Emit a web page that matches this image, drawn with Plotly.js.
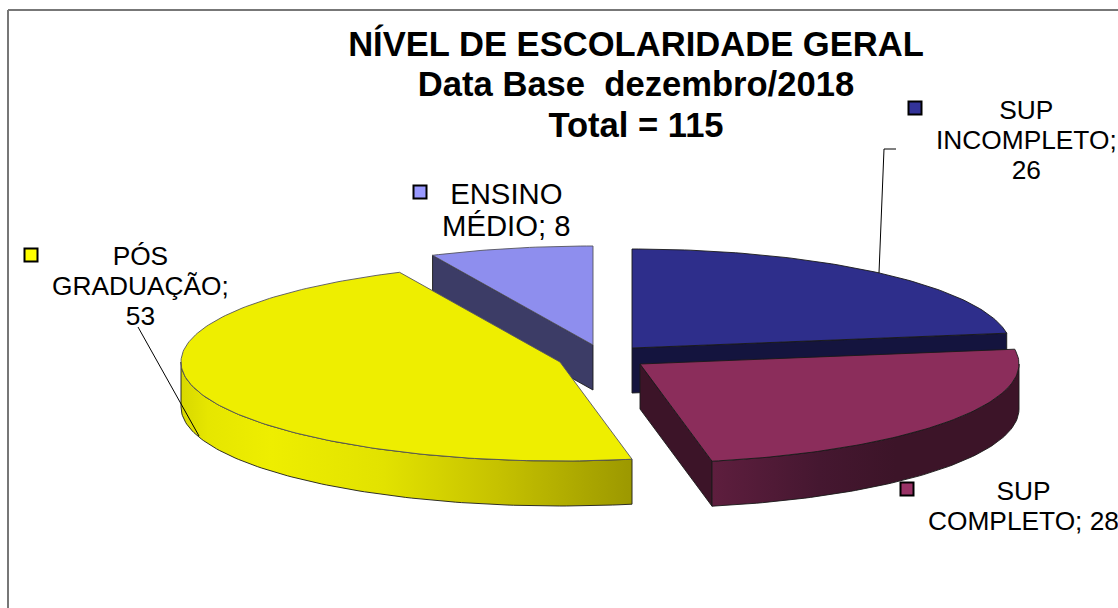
<!DOCTYPE html>
<html>
<head>
<meta charset="utf-8">
<script src="https://cdn.plot.ly/plotly-3.0.1.min.js"></script>
<style>html,body{margin:0;padding:0;background:#fff;overflow:hidden}#chart{width:1118px;height:608px}</style>
</head>
<body>
<div id="chart"></div>
<script>
// ---- data ----
const categories = ['SUP INCOMPLETO', 'SUP COMPLETO', 'PÓS GRADUAÇÃO', 'ENSINO MÉDIO'];
const values = [26, 28, 53, 8];
const titleLines = ['NÍVEL DE ESCOLARIDADE GERAL', 'Data Base  dezembro/2018', 'Total = 115'];
const labelBreaks = [['SUP', 'INCOMPLETO;', '26'], ['SUP', 'COMPLETO; 28'], ['PÓS', 'GRADUAÇÃO;', '53'], ['ENSINO', 'MÉDIO; 8']];
const labelSizes = [26.3, 26.3, 26.3, 29.3];
const labelLineBase = [23, 23, 23, 24.5];

// ---- styling ----
const topColors = ['#2e2e8b', '#8b2d5b', '#eeee00', '#8e8eee'];
const cutColors = ['#14143e', '#3c1428', '#a09a00', '#3c3c66'];
const keyColors = ['#333399', '#993366', '#ffff00', '#9999ff'];
const rimScales = [
  null,
  [[0, '#5e1e3e'], [0.35, '#451730'], [0.6, '#3c1428'], [1, '#3c1428']],
  [[0, '#d8d800'], [0.06, '#e6e600'], [0.2, '#eeee00'], [0.45, '#e2e200'], [0.7, '#c6c200'], [1, '#9c9800']],
  null
];

// ---- pie geometry: axes are set to run in pixels of the page ----
const RX = 379, RY = 99, DEPTH = 45;
const centres = [[632, 348], [640, 364], [560, 362], [593, 345]];
const labelAnchors = [[1026, 140], [1023, 506], [140.5, 285.5], [506, 209.5]];
const keyAnchors = [[915, 108], [907, 489], [31, 255], [420, 192]];
const leaderA = [[896, 149], [884, 149], [879, 273]];
const leaderC = [[138, 327], [199, 436]];
const frameX = [8, 8], frameY = [608, 10], frameTopX = [8, 1118], frameTopY = [10, 10];

const total = values.reduce((a, b) => a + b, 0);
const rad = d => d * Math.PI / 180;
function arcPts(c, a0, a1, dy) {
  const n = Math.max(2, Math.ceil(Math.abs(a1 - a0)));
  const xs = [], ys = [];
  for (let i = 0; i <= n; i++) {
    const a = rad(a0 + (a1 - a0) * i / n);
    xs.push(c[0] + RX * Math.sin(a));
    ys.push(c[1] - RY * Math.cos(a) + dy);
  }
  return [xs, ys];
}
function poly(xs, ys, fill, grad, lineColor, lineWidth) {
  const t = {
    type: 'scatter', mode: 'lines', x: xs.concat(xs[0]), y: ys.concat(ys[0]),
    fill: 'toself', line: {color: lineColor || '#1a1a1a', width: lineWidth || 0.9},
    hoverinfo: 'skip', showlegend: false
  };
  if (grad) { t.fillgradient = {type: 'horizontal', colorscale: grad}; t.fillcolor = grad[0][1]; }
  else t.fillcolor = fill;
  return t;
}
const spans = [];
let acc = 0;
values.forEach(v => { spans.push([acc / total * 360, (acc + v) / total * 360]); acc += v; });

function slice(i) {
  const c = centres[i], [a0, a1] = spans[i], out = [];
  if (i === 0 || i === 1) {
    const [ex, ey] = arcPts(c, a1, a1, 0);
    out.push(poly([c[0], ex[0], ex[0], c[0]], [c[1], ey[0], ey[0] + DEPTH, c[1] + DEPTH], cutColors[i]));
  }
  if (i === 3) {
    const [sx, sy] = arcPts(c, a0, a0, 0);
    out.push(poly([c[0], sx[0], sx[0], c[0]], [c[1], sy[0], sy[0] + DEPTH, c[1] + DEPTH], cutColors[i]));
  }
  const r0 = Math.max(a0, 90), r1 = Math.min(a1, 270);
  if (r1 > r0 && rimScales[i]) {
    const [tx, ty] = arcPts(c, r0, r1, 0);
    const [bx, by] = arcPts(c, r1, r0, DEPTH);
    out.push(poly(tx.concat(bx), ty.concat(by), null, rimScales[i]));
  }
  const [ax, ay] = arcPts(c, a0, a1, 0);
  out.push(poly([c[0]].concat(ax), [c[1]].concat(ay), topColors[i], null, i === 2 || i === 3 ? '#55555f' : '#1a1a1a'));
  return out;
}
const traces = [];
traces.push({type: 'scatter', mode: 'lines', x: frameX, y: frameY, line: {color: '#777777', width: 2}, hoverinfo: 'skip', showlegend: false});
traces.push({type: 'scatter', mode: 'lines', x: frameTopX, y: frameTopY, line: {color: '#777777', width: 2}, hoverinfo: 'skip', showlegend: false});
[3, 0, 2, 1].forEach(i => traces.push(...slice(i)));

[leaderA, leaderC].forEach(l => traces.push({
  type: 'scatter', mode: 'lines', x: l.map(p => p[0]), y: l.map(p => p[1]),
  line: {color: '#000', width: 1}, hoverinfo: 'skip', showlegend: false
}));
traces.push({
  type: 'scatter', mode: 'markers', x: keyAnchors.map(p => p[0]), y: keyAnchors.map(p => p[1]),
  marker: {symbol: 'square', size: 13, color: keyColors, line: {color: '#000', width: 2}},
  hoverinfo: 'skip', showlegend: false
});

const ff = 'Liberation Sans, Arial, sans-serif';
const annotations = categories.map((cat, i) => ({
  xref: 'x', yref: 'y', x: labelAnchors[i][0], y: labelAnchors[i][1], showarrow: false,
  xanchor: 'center', yanchor: 'middle', align: 'center',
  text: labelBreaks[i].map(s => '<span style="font-size:' + labelSizes[i] + 'px">' + s + '</span>').join('<br>'),
  font: {family: ff, size: labelLineBase[i], color: '#000'}
}));

Plotly.newPlot('chart', traces, {
  width: 1118, height: 608,
  margin: {l: 0, r: 0, t: 0, b: 0},
  paper_bgcolor: '#fff', plot_bgcolor: '#fff',
  showlegend: false,
  title: {
    text: titleLines.map(s => '<span style="font-size:34.6px">' + s + '</span>').join('<br>'),
    font: {family: ff, size: 31, color: '#000', weight: 700},
    x: 636 / 1118, xanchor: 'center', xref: 'paper',
    y: 1 - 56 / 608, yanchor: 'top', yref: 'container'
  },
  xaxis: {visible: false, range: [0, 1118], fixedrange: true},
  yaxis: {visible: false, range: [608, 0], fixedrange: true},
  annotations: annotations
}, {displayModeBar: false, staticPlot: true});
</script>
</body>
</html>
